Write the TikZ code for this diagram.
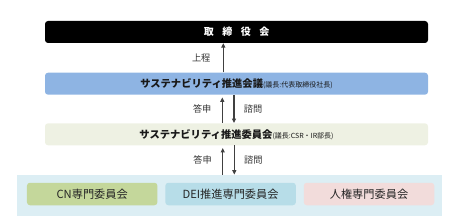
\documentclass[tikz,border=0pt]{standalone}
\usepackage{fontspec}
\setmainfont{Noto Sans CJK JP}
\usetikzlibrary{arrows.meta, positioning}

\definecolor{kaigiblue}{HTML}{8EB4E3}
\definecolor{iinkaigreen}{HTML}{EEF1E3}
\definecolor{panelblue}{HTML}{DCEEF4}
\definecolor{cngreen}{HTML}{C4D79B}
\definecolor{deiblue}{HTML}{B7DDE8}
\definecolor{jinkenpink}{HTML}{F2DCDB}
\definecolor{arrowgray}{HTML}{404040}

\begin{document}
\begin{tikzpicture}[
    x=1pt, y=-1pt,
    layer/.style={rounded corners=3pt, align=center, inner sep=0pt,
                  minimum width=383pt, minimum height=22pt, text=black!90},
    sub/.style={rounded corners=3pt, align=center, inner sep=0pt, text=black!85,
                minimum width=130.5pt, minimum height=22.5pt, font=\fontsize{11.2}{12}\selectfont},
    flow/.style={draw=arrowgray, line width=1.1pt, -{Triangle[length=4.5pt,width=4pt]}},
    tag/.style={font=\fontsize{9.2}{10}\selectfont, text=black!80}
  ]
    \useasboundingbox (0,0) rectangle (457,224);
    \node[layer, fill=black, text=white, font=\fontsize{10}{12}\selectfont\bfseries] (board) at (236.5,32)
      {取\hspace{0.85em}締\hspace{0.85em}役\hspace{0.85em}会};
    \node[layer, fill=kaigiblue, font=\fontsize{10.3}{12}\selectfont\bfseries] (kaigi) at (236.5,83.7)
      {サステナビリティ推進会議{\fontsize{7}{8}\selectfont\mdseries(議長:代表取締役社長)}};
    \node[layer, fill=iinkaigreen, font=\fontsize{10.3}{12}\selectfont\bfseries] (iinkai) at (236.5,134.3)
      {サステナビリティ推進委員会{\fontsize{7}{8}\selectfont\mdseries(議長:CSR・IR部長)}};
    \node[fill=panelblue, minimum width=425pt, minimum height=41.3pt, inner sep=0pt] (panel) at (229.8,195.4) {};
    \node[sub, fill=cngreen] (cn) at (92.2,194) {CN専門委員会};
    \node[sub, fill=deiblue, right=7.5pt of cn] (dei) {DEI推進専門委員会};
    \node[sub, fill=jinkenpink, right=7.5pt of dei] (jinken) {人権専門委員会};

    \draw[flow] ([xshift=-13.2pt]kaigi.north) -- ([xshift=-13.2pt]board.south)
      node[tag, midway, left=9pt] {上程};
    \draw[flow, shorten >=2.5pt] ([xshift=-14.2pt]iinkai.north) -- ([xshift=-14.2pt]kaigi.south)
      node[tag, midway, left=7pt] {答申};
    \draw[flow] ([xshift=-2.5pt]kaigi.south) -- ([xshift=-2.5pt]iinkai.north)
      node[tag, midway, right=6pt] {諮問};
    \draw[flow, shorten >=2.5pt] ([xshift=-13.8pt]iinkai.south |- panel.north) -- ([xshift=-13.8pt]iinkai.south)
      node[tag, midway, left=7pt] {答申};
    \draw[flow] ([xshift=-2.2pt]iinkai.south) -- ([xshift=-2.2pt]iinkai.south |- panel.north)
      node[tag, midway, right=6pt] {諮問};
  \end{tikzpicture}
\end{document}
